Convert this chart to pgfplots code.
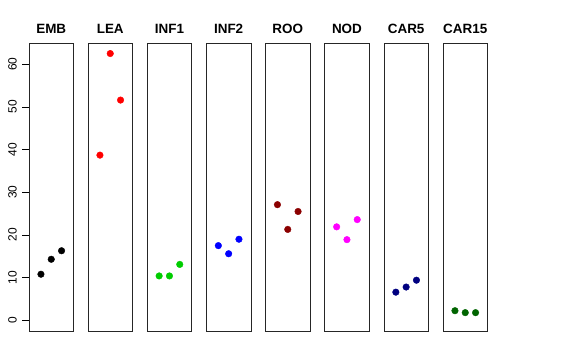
\documentclass[border=0pt]{standalone}
\usepackage{pgfplots}
\pgfplotsset{compat=1.18}
\usepackage{fontspec}
\setmainfont{Liberation Sans}
\definecolor{cgreen}{RGB}{0,205,0}
\definecolor{cdarkred}{RGB}{139,0,0}
\definecolor{cnavy}{RGB}{0,0,128}
\definecolor{cdarkgreen}{RGB}{0,100,0}
\definecolor{cmagenta}{RGB}{255,0,255}
\definecolor{cred}{RGB}{255,0,0}
\definecolor{cblue}{RGB}{0,0,255}
\pgfplotsset{
  panel/.style={
    width=44.5bp, height=287.7bp, scale only axis,
    anchor=south west,
    xmin=-0.16, xmax=4.16, ymin=-2.5, ymax=64.9,
    xtick=\empty, ytick=\empty,
    axis line style={black!85, line width=0.8bp},
    clip=false,
    /pgf/number format/assume math mode=true,
    tick label style={font=\fontsize{12}{12}\selectfont},
    tick align=outside, major tick length=7bp,
    ytick pos=left,
    every tick/.style={black, line width=0.6bp},
    yticklabel style={rotate=90, anchor=south, inner sep=0pt, yshift=5bp},
  },
}
\newcommand{\panel}[7]{%
\begin{axis}[panel, at={(#1bp,29bp)}, #7]
\addplot[only marks, mark=*, mark size=3.3bp, color=#3] coordinates {(1,#4) (2,#5) (3,#6)};
\node[anchor=base, inner sep=0pt, font=\fontsize{13.5}{13.5}\selectfont\bfseries] at (rel axis cs:0.5,1) [yshift=9.7bp] {#2};
\end{axis}}
\begin{document}
\begin{tikzpicture}
\path[use as bounding box] (0,0) rectangle (576bp,360bp);
\panel{29}{EMB}{black}{10.8}{14.3}{16.3}{ytick={0,10,...,60}}
\panel{88}{LEA}{cred}{38.7}{62.5}{51.6}{}
\panel{147.2}{INF1}{cgreen}{10.4}{10.4}{13.1}{}
\panel{206.4}{INF2}{cblue}{17.5}{15.6}{19.0}{}
\panel{265.5}{ROO}{cdarkred}{27.1}{21.3}{25.5}{}
\panel{324.7}{NOD}{cmagenta}{21.9}{18.9}{23.6}{}
\panel{383.9}{CAR5}{cnavy}{6.6}{7.8}{9.4}{}
\panel{443}{CAR15}{cdarkgreen}{2.25}{1.8}{1.8}{}
\end{tikzpicture}
\end{document}
